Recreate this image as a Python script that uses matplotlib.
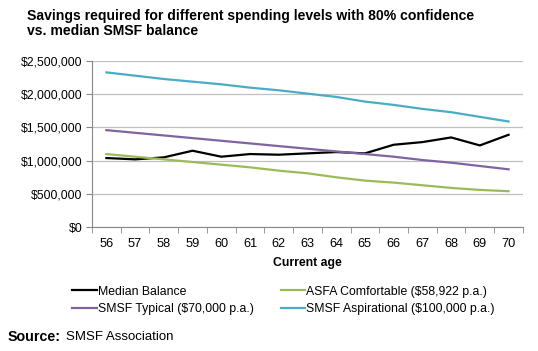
import matplotlib.pyplot as plt
from matplotlib.ticker import FuncFormatter

plt.rcParams['font.family'] = ['Liberation Sans', 'DejaVu Sans']

# ---------------------------------------------------------------------------
# data ($ millions)

ages = list(range(56, 71))
median_balance = [1.04, 1.02, 1.05, 1.15, 1.06, 1.10, 1.09, 1.11, 1.13, 1.11, 1.24, 1.28, 1.35, 1.23, 1.39]
asfa_comfortable = [1.10, 1.06, 1.02, 0.98, 0.94, 0.90, 0.85, 0.81, 0.75, 0.70, 0.67, 0.63, 0.59, 0.56, 0.54]
smsf_typical = [1.46, 1.42, 1.38, 1.34, 1.30, 1.26, 1.22, 1.18, 1.14, 1.10, 1.06, 1.01, 0.97, 0.92, 0.87]
smsf_aspirational = [2.33, 2.28, 2.23, 2.19, 2.15, 2.10, 2.06, 2.01, 1.96, 1.89, 1.84, 1.78, 1.73, 1.66, 1.59]

labels = ['Median Balance', 'SMSF Typical ($70,000 p.a.)',
          'ASFA Comfortable ($58,922 p.a.)', 'SMSF Aspirational ($100,000 p.a.)']

# ---------------------------------------------------------------------------

fig = plt.figure(figsize=(5.38, 3.51), dpi=100)
ax = fig.add_axes([0.171, 0.353, 0.801, 0.473])

l1, = ax.plot(ages, [v * 1e6 for v in median_balance], color='black', lw=1.6)
l3, = ax.plot(ages, [v * 1e6 for v in asfa_comfortable], color='#9BBB59', lw=1.6)
l2, = ax.plot(ages, [v * 1e6 for v in smsf_typical], color='#8064A2', lw=1.6)
l4, = ax.plot(ages, [v * 1e6 for v in smsf_aspirational], color='#4BACC6', lw=1.6)

ax.set_xlim(55.5, 70.5)
ax.set_ylim(0, 2.5e6)
ax.set_yticks([0, 0.5e6, 1e6, 1.5e6, 2e6, 2.5e6])
ax.yaxis.set_major_formatter(FuncFormatter(lambda v, p: '${:,.0f}'.format(v)))
ax.set_xticks(ages)
ax.set_xticks([a + 0.5 for a in range(55, 71)], minor=True)
ax.tick_params(axis='x', which='major', length=0, labelsize=9.2, pad=8)
ax.tick_params(axis='x', which='minor', length=4, color='#888888')
ax.tick_params(axis='y', length=4, color='#888888', labelsize=8.8, pad=3)
ax.grid(axis='y', color='#c0c0c0', lw=0.9)
ax.set_axisbelow(True)
for s in ['top', 'right']:
    ax.spines[s].set_visible(False)
for s in ['left', 'bottom']:
    ax.spines[s].set_color('#888888')

ax.set_xlabel('Current age', fontsize=8.8, fontweight='bold', labelpad=5)

fig.text(0.05, 0.975, 'Savings required for different spending levels with 80% confidence\nvs. median SMSF balance',
         fontsize=10.1, fontweight='bold', va='top', ha='left', linespacing=1.15)

fig.legend([l1, l2, l3, l4], labels, ncol=2, loc='upper left', bbox_to_anchor=(0.125, 0.2),
           frameon=False, fontsize=8.8, handlelength=2.0, handletextpad=0.1,
           columnspacing=2.2, labelspacing=0.45, borderaxespad=0)

fig.text(0.015, 0.04, 'Source:', fontsize=10.3, fontweight='bold', va='center')
fig.text(0.123, 0.04, 'SMSF Association', fontsize=9.5, va='center')

fig.savefig('out.png', dpi=100)
